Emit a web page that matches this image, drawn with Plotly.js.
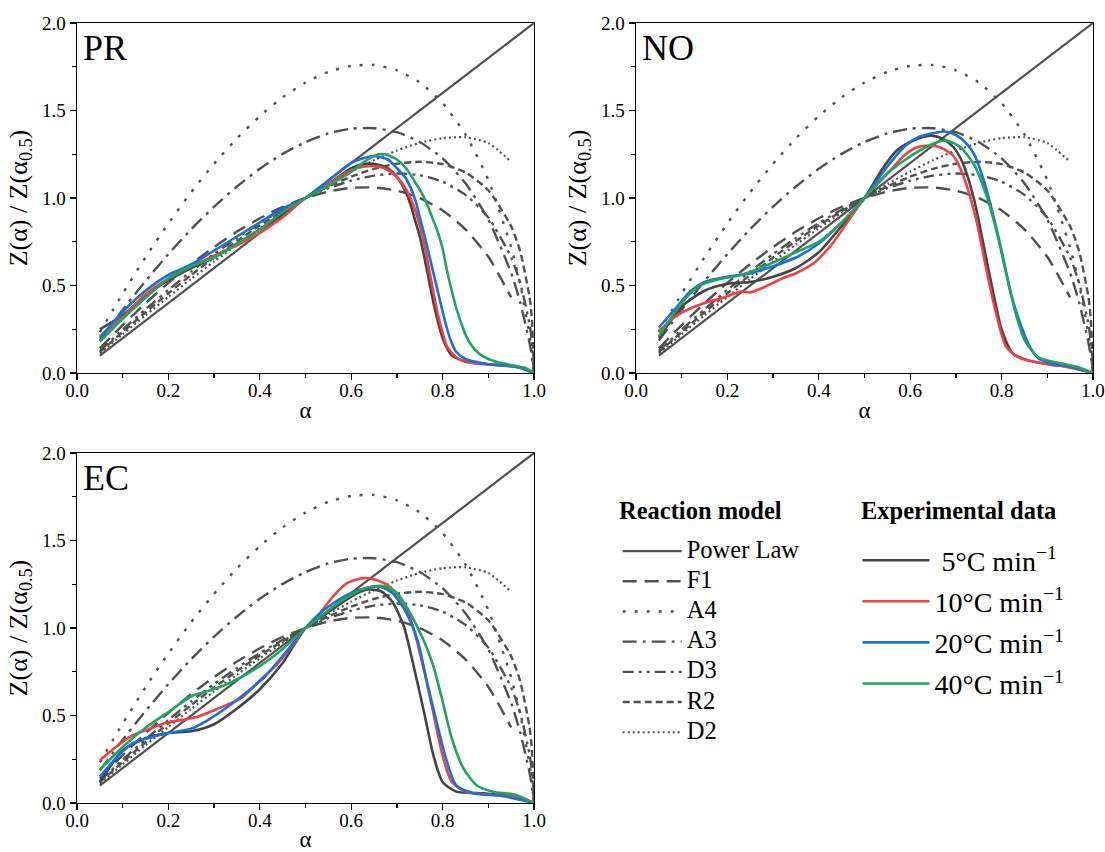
<!DOCTYPE html>
<html><head><meta charset="utf-8">
<script src="https://cdn.plot.ly/plotly-3.0.1.min.js"></script>
<style>html,body{margin:0;padding:0;background:#fff}#chart{width:1105px;height:852px}</style>
</head><body><div id="chart"></div>
<script>
// ---------- Reaction model master curves ----------
const modelNames = ['Power Law','F1','A4','A3','D3','R2','D2'];
const powerLawAlpha = [0.05, 1.00];
const powerLaw = [0.10, 2.00];
const modelAlpha = [0.05,0.10,0.15,0.20,0.25,0.30,0.35,0.40,0.45,0.50,0.55,0.60,0.65,0.70,0.75,0.80,0.85,0.90,0.95,0.97,0.99,0.995,1.00];
const shortAlpha = [0.05,0.10,0.15,0.20,0.25,0.30,0.35,0.40,0.45,0.50,0.55,0.60,0.65,0.70,0.75,0.80,0.85,0.90,0.95];
const f1 = [0.141,0.274,0.399,0.515,0.623,0.720,0.808,0.884,0.949,1.000,1.037,1.058,1.060,1.042,1.000,0.929,0.821,0.664,0.432];
const a4 = [0.233,0.454,0.662,0.855,1.034,1.196,1.341,1.468,1.575,1.660,1.721,1.755,1.760,1.730,1.660,1.542,1.363,1.103,0.717,0.504,0.221,0.127,0.0];
const a3 = [0.186,0.361,0.526,0.680,0.822,0.951,1.066,1.167,1.252,1.320,1.369,1.396,1.399,1.376,1.320,1.226,1.084,0.877,0.571,0.401,0.175,0.101,0.0];
const d3 = [0.126,0.248,0.364,0.475,0.581,0.680,0.772,0.857,0.933,1.000,1.056,1.099,1.128,1.140,1.130,1.093,1.018,0.888,0.660,0.512,0.280,0.187,0.0];
const r2 = [0.119,0.235,0.347,0.456,0.560,0.660,0.754,0.843,0.925,1.000,1.066,1.122,1.167,1.196,1.207,1.194,1.146,1.044,0.838,0.692,0.435,0.317,0.0];
const d2 = [0.112,0.222,0.330,0.435,0.538,0.638,0.734,0.827,0.916,1.000,1.079,1.151,1.216,1.271,1.315,1.342,1.347,1.314,1.207];

// ---------- Experimental data: PR ----------
const pr5Alpha = [0.05,0.10,0.15,0.20,0.25,0.30,0.35,0.40,0.45,0.50,0.55,0.60,0.63,0.66,0.68,0.70,0.72,0.73,0.74,0.75,0.76,0.77,0.78,0.79,0.80,0.81,0.82,0.85,0.90,0.95,0.97,1.00];
const pr5 = [0.25,0.33,0.44,0.53,0.60,0.66,0.74,0.82,0.91,1.00,1.08,1.17,1.195,1.19,1.17,1.12,1.03,0.96,0.87,0.78,0.66,0.53,0.40,0.29,0.20,0.14,0.10,0.065,0.05,0.04,0.03,0.0];
const pr10Alpha = [0.05,0.10,0.15,0.20,0.25,0.30,0.35,0.40,0.45,0.50,0.55,0.60,0.63,0.66,0.68,0.70,0.72,0.74,0.75,0.76,0.77,0.78,0.79,0.80,0.81,0.83,0.86,0.90,0.95,0.97,1.00];
const pr10 = [0.21,0.32,0.45,0.54,0.61,0.67,0.73,0.80,0.89,1.00,1.08,1.16,1.18,1.18,1.16,1.12,1.05,0.93,0.84,0.73,0.60,0.46,0.33,0.23,0.15,0.09,0.06,0.05,0.04,0.03,0.0];
const pr20Alpha = [0.05,0.10,0.15,0.20,0.25,0.30,0.35,0.40,0.45,0.50,0.55,0.60,0.63,0.65,0.68,0.70,0.72,0.74,0.75,0.76,0.77,0.78,0.79,0.80,0.81,0.82,0.83,0.85,0.87,0.90,0.95,0.97,1.00];
const pr20 = [0.20,0.35,0.47,0.56,0.62,0.70,0.78,0.86,0.94,1.00,1.10,1.20,1.23,1.24,1.22,1.17,1.11,0.99,0.89,0.79,0.68,0.57,0.46,0.35,0.25,0.17,0.12,0.08,0.065,0.05,0.038,0.03,0.0];
const pr40Alpha = [0.05,0.10,0.15,0.20,0.25,0.30,0.35,0.40,0.45,0.50,0.55,0.60,0.63,0.66,0.68,0.70,0.72,0.74,0.76,0.78,0.79,0.80,0.81,0.82,0.83,0.84,0.85,0.86,0.88,0.90,0.93,0.96,0.98,1.00];
const pr40 = [0.18,0.31,0.43,0.54,0.61,0.66,0.74,0.82,0.92,1.00,1.07,1.15,1.21,1.25,1.245,1.22,1.17,1.09,1.00,0.87,0.80,0.71,0.58,0.47,0.37,0.29,0.22,0.17,0.11,0.08,0.055,0.04,0.03,0.0];

// ---------- Experimental data: NO ----------
const no5Alpha = [0.05,0.10,0.15,0.20,0.25,0.30,0.35,0.40,0.45,0.50,0.54,0.57,0.60,0.63,0.65,0.67,0.695,0.715,0.74,0.76,0.78,0.80,0.825,0.855,0.91,0.95,1.00];
const no5 = [0.20,0.38,0.47,0.51,0.52,0.55,0.60,0.69,0.84,1.00,1.17,1.27,1.32,1.35,1.355,1.34,1.29,1.20,0.99,0.74,0.48,0.25,0.11,0.075,0.046,0.035,0.0];
const no10Alpha = [0.05,0.09,0.12,0.15,0.19,0.23,0.25,0.28,0.32,0.35,0.39,0.43,0.47,0.50,0.55,0.59,0.615,0.645,0.665,0.695,0.72,0.745,0.77,0.79,0.81,0.84,0.88,0.94,1.00];
const no10 = [0.24,0.33,0.37,0.40,0.43,0.465,0.46,0.49,0.54,0.57,0.63,0.74,0.89,1.00,1.14,1.25,1.29,1.30,1.29,1.24,1.10,0.87,0.55,0.32,0.15,0.085,0.06,0.036,0.0];
const no20Alpha = [0.05,0.09,0.12,0.15,0.20,0.25,0.30,0.35,0.40,0.45,0.50,0.55,0.59,0.62,0.65,0.675,0.70,0.72,0.74,0.76,0.78,0.80,0.82,0.84,0.86,0.88,0.91,0.95,1.00];
const no20 = [0.26,0.38,0.47,0.52,0.55,0.57,0.61,0.66,0.74,0.86,1.00,1.18,1.30,1.35,1.37,1.38,1.36,1.32,1.25,1.11,0.92,0.70,0.46,0.29,0.16,0.085,0.055,0.036,0.0];
const no40Alpha = [0.05,0.10,0.14,0.18,0.23,0.29,0.35,0.40,0.45,0.50,0.55,0.59,0.62,0.66,0.68,0.71,0.74,0.77,0.79,0.81,0.83,0.85,0.88,0.93,0.97,1.00];
const no40 = [0.21,0.40,0.50,0.535,0.56,0.62,0.69,0.75,0.86,1.00,1.14,1.22,1.27,1.32,1.328,1.29,1.19,0.99,0.80,0.57,0.35,0.19,0.09,0.055,0.032,0.0];

// ---------- Experimental data: EC ----------
const ec5Alpha = [0.05,0.10,0.15,0.20,0.25,0.30,0.35,0.40,0.45,0.50,0.55,0.60,0.635,0.665,0.69,0.715,0.735,0.76,0.78,0.80,0.83,0.89,0.96,1.00];
const ec5 = [0.12,0.30,0.37,0.40,0.41,0.45,0.54,0.65,0.80,1.00,1.09,1.18,1.22,1.21,1.15,1.01,0.80,0.51,0.27,0.12,0.065,0.055,0.036,0.0];
const ec10Alpha = [0.05,0.09,0.12,0.16,0.19,0.23,0.26,0.30,0.34,0.36,0.40,0.44,0.48,0.50,0.53,0.56,0.59,0.625,0.655,0.685,0.715,0.735,0.76,0.78,0.80,0.82,0.85,0.91,0.96,1.00];
const ec10 = [0.245,0.33,0.385,0.425,0.455,0.475,0.49,0.53,0.575,0.60,0.70,0.80,0.93,1.00,1.08,1.18,1.255,1.285,1.275,1.235,1.14,1.01,0.75,0.51,0.27,0.12,0.065,0.046,0.036,0.0];
const ec20Alpha = [0.05,0.09,0.12,0.16,0.20,0.25,0.29,0.33,0.37,0.41,0.45,0.50,0.53,0.56,0.60,0.635,0.665,0.69,0.72,0.745,0.765,0.79,0.81,0.83,0.87,0.93,1.00];
const ec20 = [0.15,0.27,0.34,0.375,0.40,0.425,0.48,0.55,0.63,0.72,0.84,1.00,1.08,1.14,1.20,1.23,1.235,1.20,1.09,0.93,0.70,0.43,0.23,0.10,0.055,0.04,0.0];
const ec40Alpha = [0.05,0.10,0.15,0.20,0.25,0.28,0.32,0.36,0.41,0.45,0.50,0.53,0.56,0.60,0.635,0.67,0.70,0.73,0.76,0.78,0.80,0.82,0.845,0.875,0.91,0.96,1.00];
const ec40 = [0.19,0.32,0.43,0.52,0.61,0.635,0.67,0.72,0.80,0.88,1.00,1.06,1.12,1.19,1.23,1.24,1.20,1.08,0.92,0.78,0.58,0.37,0.20,0.10,0.065,0.046,0.0];

const panelLabels = ['PR','NO','EC'];
const legendTitles = ['Reaction model','Experimental data'];
const rateLabels = ['\u00A05°C min<sup>\u22121</sup>','10°C min<sup>\u22121</sup>','20°C min<sup>\u22121</sup>','40°C min<sup>\u22121</sup>'];
const rateColors = ['#444444','#F14040','#1A6FDF','#1FA55E'];

// ---------- build traces ----------
const FONT = "'Liberation Serif', 'Times New Roman', serif";
const MC = '#505050';
const models = [
  {name:modelNames[0], x:powerLawAlpha, y:powerLaw, dash:'solid', w:2.2},
  {name:modelNames[1], x:shortAlpha, y:f1, dash:'14px,8px', w:2.4},
  {name:modelNames[2], x:modelAlpha, y:a4, dash:'3px,9px', w:2.4},
  {name:modelNames[3], x:modelAlpha, y:a3, dash:'14px,6px,3px,6px', w:2.4},
  {name:modelNames[4], x:modelAlpha, y:d3, dash:'11px,5px,3px,5px,3px,5px', w:2.4},
  {name:modelNames[5], x:modelAlpha, y:r2, dash:'7px,4px', w:2.4},
  {name:modelNames[6], x:shortAlpha, y:d2, dash:'2px,3px', w:2.2}
];
const expData = [
  [[pr5Alpha,pr5],[pr10Alpha,pr10],[pr20Alpha,pr20],[pr40Alpha,pr40]],
  [[no5Alpha,no5],[no10Alpha,no10],[no20Alpha,no20],[no40Alpha,no40]],
  [[ec5Alpha,ec5],[ec10Alpha,ec10],[ec20Alpha,ec20],[ec40Alpha,ec40]]
];
const axisIds = [['x','y'],['x2','y2'],['x3','y3']];
const traces = [];
for (let p = 0; p < 3; p++) {
  models.forEach(m => traces.push({
    type:'scatter', mode:'lines', x:m.x, y:m.y,
    name:'<span style="font-size:24.5px">' + m.name + '</span>',
    xaxis:axisIds[p][0], yaxis:axisIds[p][1],
    line:{color:MC, width:m.w, dash:m.dash, shape:'spline', smoothing:0.6},
    legend:'legend', legendgroup:'m_'+m.name, showlegend:p===0, hoverinfo:'skip'
  }));
}
for (let p = 0; p < 3; p++) {
  expData[p].forEach((d, k) => traces.push({
    type:'scatter', mode:'lines', x:d[0], y:d[1], name:rateLabels[k],
    xaxis:axisIds[p][0], yaxis:axisIds[p][1],
    line:{color:rateColors[k], width:2.6, shape:'spline', smoothing:0.7},
    legend:'legend2', legendgroup:'e_'+k, showlegend:p===0
  }));
}

function xax(domain, anchor) {
  return {domain:domain, anchor:anchor, range:[0,1], tick0:0, dtick:0.2, tickformat:'.1f',
    ticks:'outside', ticklen:6, tickwidth:1.3, tickcolor:'#000', ticklabelstandoff:-6,
    minor:{dtick:0.1, ticks:'outside', ticklen:3.5, tickwidth:1.3, tickcolor:'#000'},
    showline:true, mirror:true, linecolor:'#000', linewidth:1.4, showgrid:false, zeroline:false,
    tickfont:{size:19, color:'#000', family:FONT},
    title:{text:'\u03B1', font:{size:23, color:'#000', family:FONT}, standoff:1}, fixedrange:true};
}
function yax(domain, anchor) {
  return {domain:domain, anchor:anchor, range:[0,2], tick0:0, dtick:0.5, tickformat:'.1f',
    ticks:'outside', ticklen:6, tickwidth:1.3, tickcolor:'#000',
    minor:{dtick:0.25, ticks:'outside', ticklen:3.5, tickwidth:1.3, tickcolor:'#000'},
    showline:true, mirror:true, linecolor:'#000', linewidth:1.4, showgrid:false, zeroline:false,
    tickfont:{size:19, color:'#000', family:FONT},
    title:{text:'Z(\u03B1) / Z(\u03B1<sub>0.5</sub>)', font:{size:26, color:'#000', family:FONT}, standoff:7}, fixedrange:true};
}
const xL = [0.0697, 0.4833], xR = [0.5756, 0.9891];
const yT = [0.5622, 0.9730], yB = [0.0575, 0.4683];

const annotations = panelLabels.map((t, p) => ({
  text:t, xref:(axisIds[p][0]) + ' domain', yref:(axisIds[p][1]) + ' domain',
  x:0.008, y:0.93, xanchor:'left', yanchor:'middle', showarrow:false,
  font:{size:36, color:'#000', family:FONT}
}));
annotations.push({text:'<b>' + legendTitles[0] + '</b>', xref:'paper', yref:'paper',
  x:617/1105, y:1-510/852, xanchor:'left', yanchor:'middle', showarrow:false,
  font:{size:24.5, color:'#000', family:FONT}});
annotations.push({text:'<b>' + legendTitles[1] + '</b>', xref:'paper', yref:'paper',
  x:859/1105, y:1-510/852, xanchor:'left', yanchor:'middle', showarrow:false,
  font:{size:24.5, color:'#000', family:FONT}});

const layout = {
  width:1105, height:852, paper_bgcolor:'#fff', plot_bgcolor:'#fff',
  margin:{l:0, r:0, t:0, b:0},
  font:{family:FONT, color:'#000'},
  xaxis:xax(xL,'y'), yaxis:yax(yT,'x'),
  xaxis2:xax(xR,'y2'), yaxis2:yax(yT,'x2'),
  xaxis3:xax(xL,'y3'), yaxis3:yax(yB,'x3'),
  annotations:annotations,
  legend:{x:0.559, y:1-533.5/852, xanchor:'left', yanchor:'top', bgcolor:'rgba(0,0,0,0)',
    font:{size:17, family:FONT, color:'#000'}, traceorder:'grouped', tracegroupgap:5.1, itemwidth:59},
  legend2:{x:0.776, y:1-535.5/852, xanchor:'left', yanchor:'top', bgcolor:'rgba(0,0,0,0)',
    font:{size:28, family:FONT, color:'#000'}, traceorder:'grouped', tracegroupgap:1.7, itemwidth:67},
  showlegend:true
};
Plotly.newPlot('chart', traces, layout, {displayModeBar:false, staticPlot:true});
</script></body></html>
